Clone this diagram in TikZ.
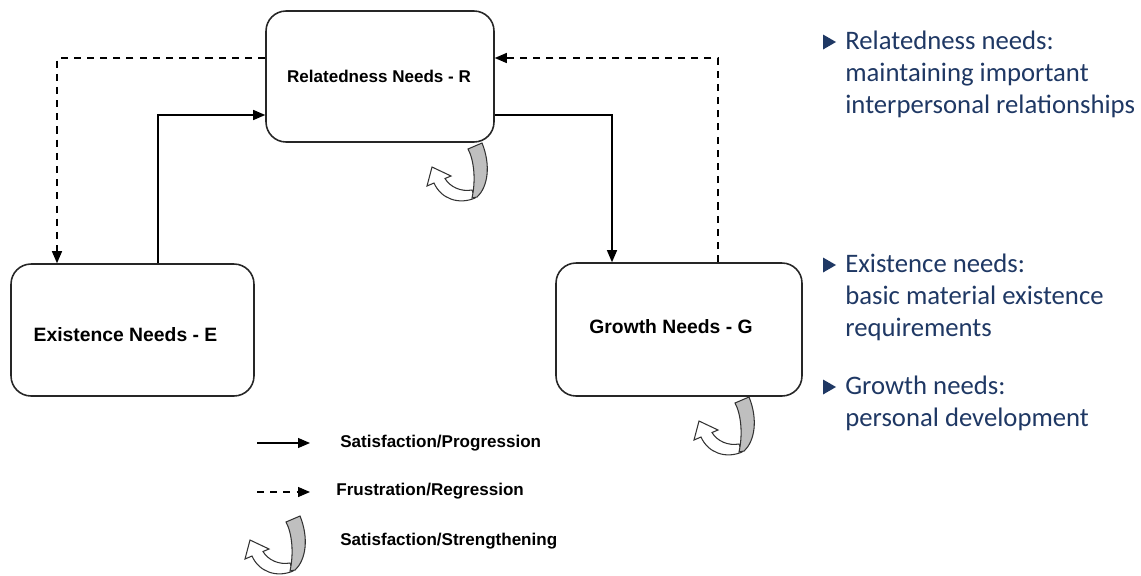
\documentclass[tikz,border=0pt]{standalone}
\usepackage{fontspec}
\usetikzlibrary{arrows.meta,calc}
\newfontfamily\erglabel{Liberation Sans}
\newfontfamily\ergnote{Carlito}
\definecolor{notenavy}{RGB}{31,56,100}
\tikzset{
	needbox/.style={draw=black!85, line width=0.9pt, rounded corners=0.4cm},
	needlbl/.style={inner sep=0pt, font=\erglabel\bfseries\fontsize{11}{13}\selectfont},
	legtext/.style={anchor=west, inner sep=0pt, font=\erglabel\bfseries\fontsize{9.7}{11}\selectfont},
	note/.style={anchor=north west, inner sep=0pt, align=left, text=notenavy,
		font=\ergnote\fontsize{15.2}{18.2}\selectfont},
	prog/.style={line width=0.7pt, -{Triangle[length=2.4mm,width=2mm]}},
	regr/.style={prog, dash pattern=on 4pt off 3.5pt},
	pics/curl/.style={code={
		\filldraw[fill=white, draw=black!80, line width=0.6pt] (-3,45) .. controls (-14,47) and (-25,42) .. (-30,33.5)
			-- (-24,31) -- (-43,22) -- (-48,41) -- (-41,38) .. controls (-34,54) and (-16,60) .. (0,53) -- cycle;
		\filldraw[fill=black!25, draw=black!80, line width=0.6pt] (-7,4) .. controls (-1,15) and (1,35) .. (-3,53)
			-- (2,52) .. controls (13,42) and (16,20) .. (7,-2) -- cycle;
	}}
}

\begin{document}
\begin{tikzpicture}[x=0.02cm, y=-0.02cm]
	\useasboundingbox (0,0) rectangle (1141,575);

	\node[needbox, minimum width=4.56cm, minimum height=2.62cm] (R) at (380,76.5) {};
	\node[needbox, minimum width=4.86cm, minimum height=2.64cm] (E) at (132.5,330) {};
	\node[needbox, minimum width=4.92cm, minimum height=2.66cm] (G) at (679,329.5) {};
	\node[needlbl, font=\erglabel\bfseries\fontsize{9.7}{11}\selectfont] (Rlbl) at ($(R)+(-1,0)$) {Relatedness Needs - R};
	\node[needlbl] (Elbl) at ($(E)+(-7,5)$) {Existence Needs - E};
	\node[needlbl] (Glbl) at ($(G)+(-8,-2.5)$) {Growth Needs - G};

	\draw[regr] (R.west |- 0,58) -| (E.north -| 57,0);
	\draw[prog] (E.north -| 158,0) |- (R.west |- 0,115);
	\draw[prog] (R.east |- 0,115) -| (G.north -| 612,0);
	\draw[regr] (G.north -| 718,0) |- (R.east |- 0,58);

	\pic at (475,145) {curl};
	\pic at (742,399) {curl};

	% legend
	\coordinate (ps) at (257,443);
	\coordinate (pe) at (310,443);
	\coordinate (rs) at (257,492);
	\coordinate (re) at (310,492);
	\draw[prog] (ps) -- (pe);
	\draw[regr] (rs) -- (re);
	\pic at (293,518) {curl};
	\node[legtext] (lsat) at (340,443) {Satisfaction/Progression};
	\node[legtext] (lfru) at (336,491) {Frustration/Regression};
	\node[legtext] (lstr) at (340,541) {Satisfaction/Strengthening};

	% notes
	\foreach \by in {42,265,387}
		\fill[notenavy] (823,\by-7.5) -- (836,\by) -- (823,\by+7.5) -- cycle;
	\node[note] (nrel) at (845,31) {Relatedness needs:\\maintaining important\\interpersonal relationships};
	\node[note] (nexi) at (845,254) {Existence needs:\\basic material existence\\requirements};
	\node[note] (ngro) at (845,376) {Growth needs:\\personal development};
\end{tikzpicture}
\end{document}
